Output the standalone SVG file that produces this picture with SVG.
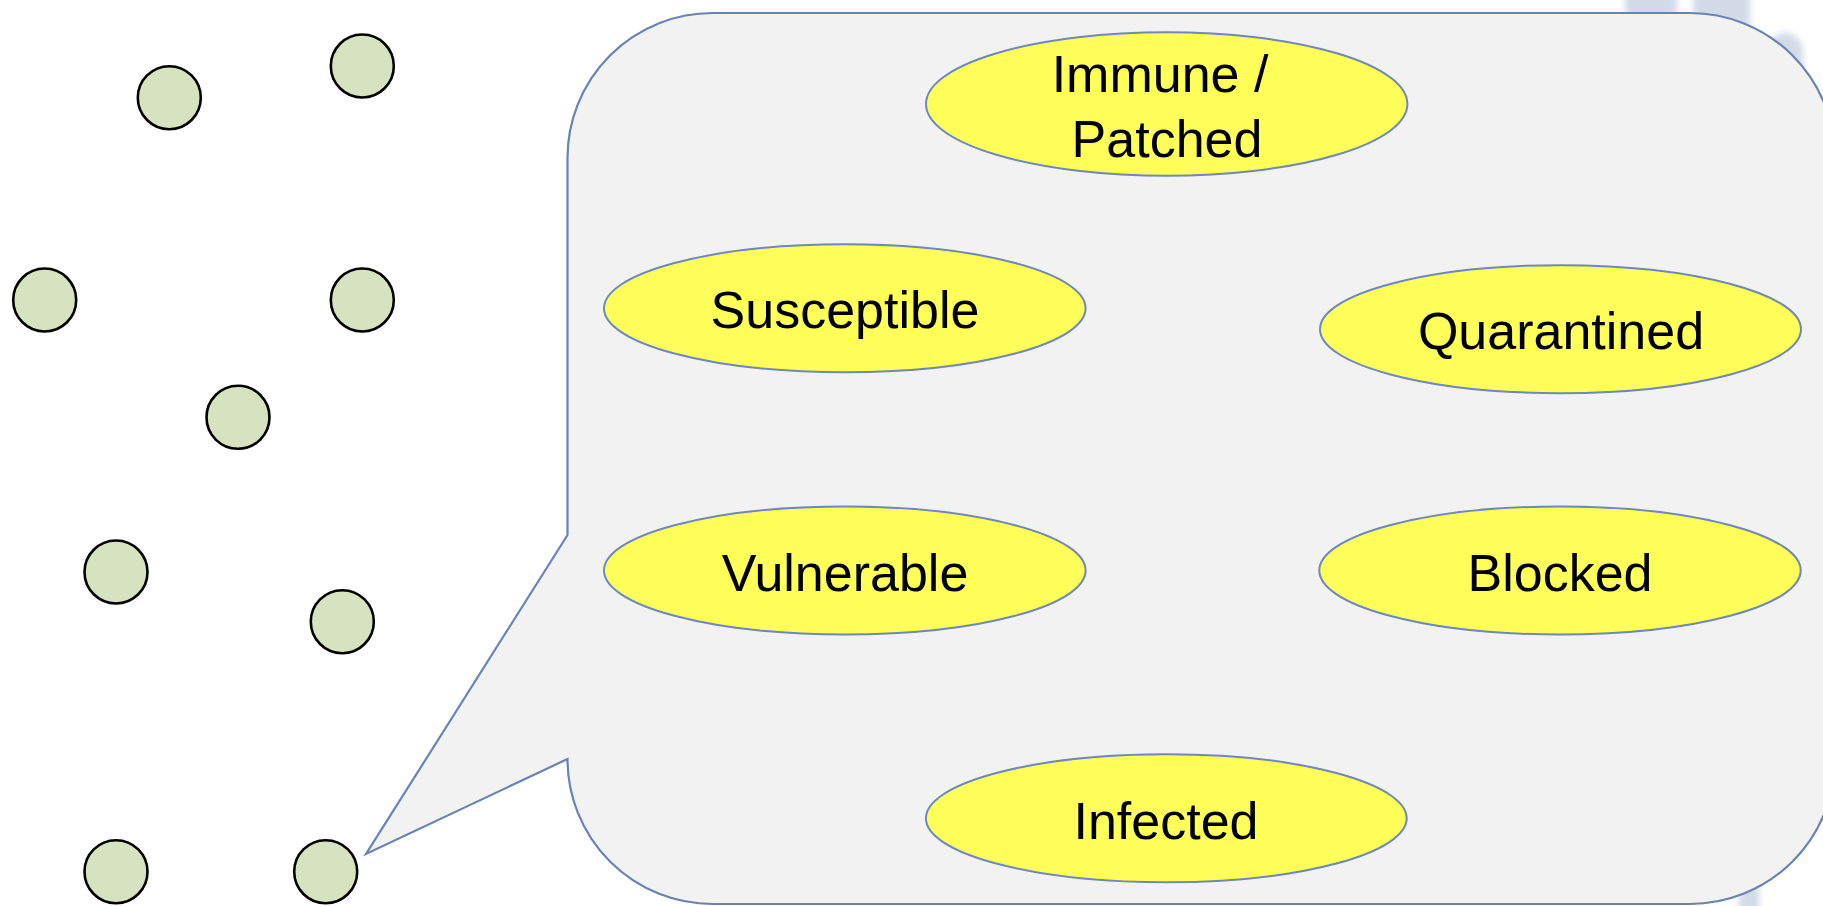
<svg xmlns="http://www.w3.org/2000/svg" width="1823" height="906" viewBox="0 0 1823 906">
<defs>
<style>
.dot{fill:#d7e3c0;stroke:#000;stroke-width:2.6}
.state{fill:#ffff5a;stroke:#6f87b9;stroke-width:2}
.lbl{font-family:"Liberation Sans",Arial,sans-serif;font-size:52px;fill:#000;text-anchor:middle}
.blob{fill:#d3dbe8}
</style>
<filter id="soft" x="-50%" y="-50%" width="200%" height="200%"><feGaussianBlur stdDeviation="3"/></filter>
</defs>
<rect width="1823" height="906" fill="#fff"/>
<g id="background-shape" filter="url(#soft)">
<rect class="blob" x="1625" y="-40" width="52" height="80" rx="26"/>
<rect class="blob" x="1693" y="-40" width="57" height="90" rx="28"/>
<rect class="blob" x="1767" y="33" width="36" height="120" rx="18"/>
<rect class="blob" x="1739" y="880" width="20" height="60" rx="10"/>
</g>
<g id="callout">
<path d="M567.5,535 L567.5,158 A145,145 0 0 1 712.5,13 L1690,13 A145,145 0 0 1 1835,158 L1835,759 A145,145 0 0 1 1690,904 L712.5,904 A145,145 0 0 1 567.5,759 L366,854 Z" fill="#f2f2f2" stroke="#6a83b5" stroke-width="2.2" stroke-linejoin="miter"/>
</g>
<g id="hosts">
<circle id="h1" class="dot" cx="169.3" cy="97.7" r="31.5"/>
<circle id="h2" class="dot" cx="362.3" cy="66" r="31.5"/>
<circle id="h3" class="dot" cx="44.7" cy="300" r="31.5"/>
<circle id="h4" class="dot" cx="362.3" cy="300" r="31.5"/>
<circle id="h5" class="dot" cx="238" cy="417.3" r="31.5"/>
<circle id="h6" class="dot" cx="116" cy="572" r="31.5"/>
<circle id="h7" class="dot" cx="342.3" cy="621.7" r="31.5"/>
<circle id="h8" class="dot" cx="116" cy="871.7" r="31.5"/>
<circle id="h9" class="dot" cx="325.7" cy="871.7" r="31.5"/>
</g>
<g id="immune">
<ellipse class="state" cx="1166.7" cy="104" rx="240.7" ry="71.8"/>
<text class="lbl" x="1160" y="91.7">Immune /</text>
<text class="lbl" x="1167" y="156.7">Patched</text>
</g>
<g id="susceptible">
<ellipse class="state" cx="844.8" cy="308.3" rx="240.8" ry="64"/>
<text class="lbl" x="845" y="328.3">Susceptible</text>
</g>
<g id="quarantined">
<ellipse class="state" cx="1560.5" cy="329.2" rx="240.5" ry="64"/>
<text class="lbl" x="1561" y="349.3">Quarantined</text>
</g>
<g id="vulnerable">
<ellipse class="state" cx="844.8" cy="570.5" rx="240.8" ry="64"/>
<text class="lbl" x="845" y="590.7">Vulnerable</text>
</g>
<g id="blocked">
<ellipse class="state" cx="1560" cy="570.5" rx="240.7" ry="64"/>
<text class="lbl" x="1560" y="590.7">Blocked</text>
</g>
<g id="infected">
<ellipse class="state" cx="1166.3" cy="818.3" rx="240.4" ry="64"/>
<text class="lbl" x="1166" y="839.3">Infected</text>
</g>
<g id="connectors"/>
</svg>
